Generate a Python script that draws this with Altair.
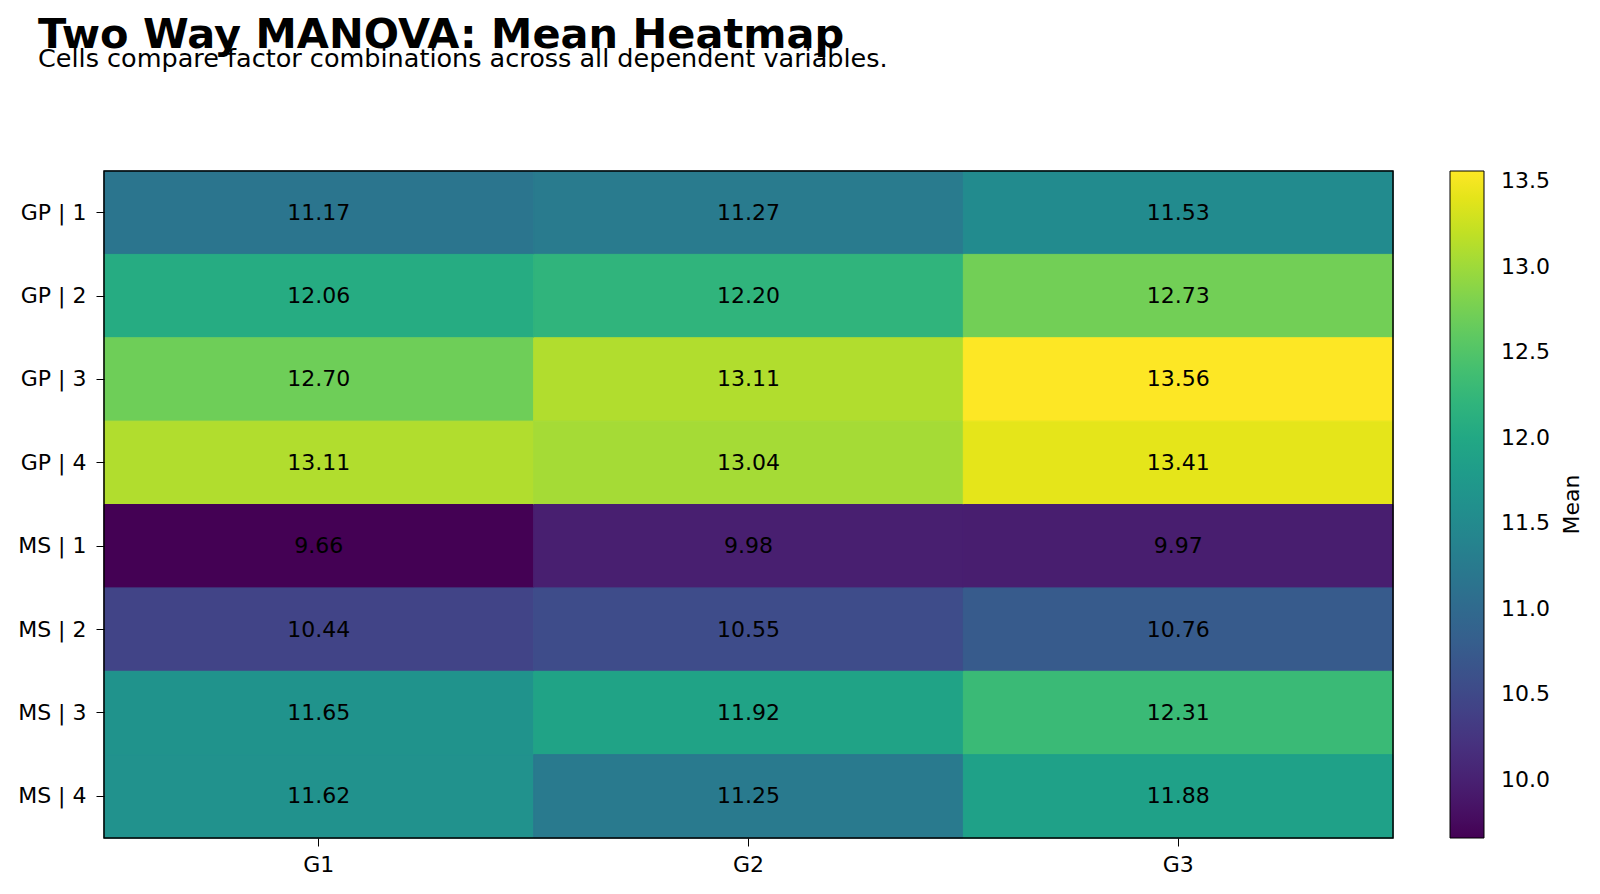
import altair as alt
import pandas as pd

rows = ["GP | 1", "GP | 2", "GP | 3", "GP | 4", "MS | 1", "MS | 2", "MS | 3", "MS | 4"]
groups = ["G1", "G2", "G3"]
g1 = [11.17, 12.06, 12.70, 13.11, 9.66, 10.44, 11.65, 11.62]
g2 = [11.27, 12.20, 13.11, 13.04, 9.98, 10.55, 11.92, 11.25]
g3 = [11.53, 12.73, 13.56, 13.41, 9.97, 10.76, 12.31, 11.88]
cbar_ticks = [10.0, 10.5, 11.0, 11.5, 12.0, 12.5, 13.0, 13.5]

records = []
for g, vals in zip(groups, [g1, g2, g3]):
    for r, v in zip(rows, vals):
        records.append({"row": r, "group": g, "mean": v})
df = pd.DataFrame(records)

vmin = min(g1 + g2 + g3)
vmax = max(g1 + g2 + g3)

FONT = "DejaVu Sans"
W, H = 1289, 667

x_enc = alt.X(
    "group:N", sort=groups, title=None,
    scale=alt.Scale(paddingInner=0, paddingOuter=0),
    axis=alt.Axis(labelAngle=0, labelFontSize=22, labelFont=FONT, labelColor="black",
                  tickSize=8, tickColor="black", tickWidth=1, domain=False,
                  labelPadding=8),
)
y_enc = alt.Y(
    "row:N", sort=rows, title=None,
    scale=alt.Scale(paddingInner=0, paddingOuter=0),
    axis=alt.Axis(labelFontSize=22, labelFont=FONT, labelColor="black",
                  tickSize=8, tickColor="black", tickWidth=1, domain=False,
                  labelPadding=10),
)

color_scale = alt.Scale(scheme="viridis", domain=[vmin, vmax])

heat = alt.Chart(df).mark_rect(strokeWidth=1).encode(
    x=x_enc,
    y=y_enc,
    color=alt.Color(
        "mean:Q",
        scale=color_scale,
        legend=alt.Legend(
            title=None,
            values=cbar_ticks, format=".1f",
            labelFontSize=22, labelFont=FONT, labelColor="black", labelOffset=17,
            gradientLength=H, gradientThickness=34,
            gradientStrokeColor="black", gradientStrokeWidth=1,
            offset=57, direction="vertical",
        ),
    ),
    stroke=alt.Stroke("mean:Q", scale=color_scale, legend=None),
)

labels = alt.Chart(df).mark_text(fontSize=22, font=FONT, color="black").encode(
    x=alt.X("group:N", sort=groups),
    y=alt.Y("row:N", sort=rows),
    text=alt.Text("mean:Q", format=".2f"),
)

# frame around the plotting area
frame = alt.Chart(pd.DataFrame({"k": [0]})).mark_rect(
    fill=None, stroke="black", strokeWidth=1.5
).encode(
    x=alt.value(0), x2=alt.value(W), y=alt.value(0), y2=alt.value(H)
)

# colorbar caption, rotated to read bottom-to-top
cbar_title = alt.Chart(pd.DataFrame({"t": ["Mean"]})).mark_text(
    fontSize=22, font=FONT, color="black", angle=270, align="center", baseline="middle"
).encode(
    text="t:N",
    x=alt.value(1468),
    y=alt.value(H / 2),
)

chart = (
    alt.layer(heat, labels, frame, cbar_title)
    .resolve_scale(color="independent")
    .properties(
        width=W,
        height=H,
        title=alt.TitleParams(
            text="Two Way MANOVA: Mean Heatmap",
            subtitle="Cells compare factor combinations across all dependent variables.",
            anchor="start", frame="group", dx=-66, offset=98,
            font=FONT, fontSize=41.5, fontWeight="bold", color="black",
            subtitleFont=FONT, subtitleFontSize=25.5, subtitleColor="black",
            subtitlePadding=-10,
        ),
        autosize="none",
        padding={"left": 104, "top": 171, "right": 207, "bottom": 56},
    )
    .configure_view(stroke=None)
    .configure(background="white")
)

chart.save("out.html", embed_options={"renderer": "svg", "actions": False})
